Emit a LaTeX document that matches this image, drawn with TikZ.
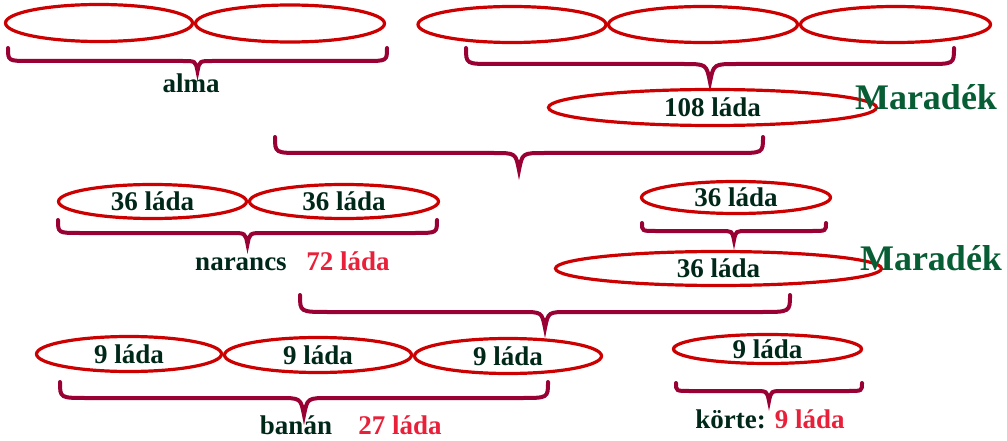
\documentclass[tikz,border=0pt]{standalone}
\usepackage{fontspec}
\setmainfont{Liberation Serif}
\usetikzlibrary{shapes.geometric}
\definecolor{korpiros}{RGB}{204,0,0}
\definecolor{kapocsszin}{RGB}{153,0,51}
\definecolor{sotet}{RGB}{0,40,25}
\definecolor{piroslada}{RGB}{232,32,58}
\definecolor{zold}{RGB}{8,94,52}
\tikzset{
  kor/.style={draw=korpiros, line width=3.2pt, ellipse, inner sep=0pt, text=sotet,
    font=\fontsize{27}{30}\selectfont\bfseries},
  kapocsvonal/.style={draw=kapocsszin, line width=4pt, line cap=round},
  felirat/.style={text=sotet, font=\fontsize{27}{30}\selectfont\bfseries, inner sep=0pt},
  piros/.style={text=piroslada, font=\fontsize{27}{30}\selectfont\bfseries, inner sep=0pt},
  maradek/.style={text=zold, font=\fontsize{36}{40}\selectfont\bfseries, inner sep=0pt}
}
% #1,#2: ends, #3: top, #4: line, #5: tip
\newcommand{\kapocs}[5]{%
  \draw[kapocsvonal] (#1,#3) .. controls (#1,#4) .. ({#1+1.7*(#4-#3)},#4)
    -- ({(#1+#2)/2-1.5*(#5-#4)},#4) .. controls ({(#1+#2)/2-0.2*(#5-#4)},#4) .. ({(#1+#2)/2},#5)
    .. controls ({(#1+#2)/2+0.2*(#5-#4)},#4) .. ({(#1+#2)/2+1.5*(#5-#4)},#4)
    -- ({#2-1.7*(#4-#3)},#4) .. controls (#2,#4) .. (#2,#3);}
\begin{document}
\begin{tikzpicture}[x=1pt, y=-1pt]
\useasboundingbox (0,0) rectangle (1007,441);
\node[kor, minimum width=187, minimum height=37] (a1) at (99,23) {};
\node[kor, minimum width=189, minimum height=37] (a2) at (290,23.5) {};
\kapocs{8}{387}{48}{61}{71}
\node[felirat, anchor=base] (alma) at (191,93) {alma};
\node[kor, minimum width=188, minimum height=36] (o1) at (512,24.5) {};
\node[kor, minimum width=189, minimum height=36] (o2) at (703,24.5) {};
\node[kor, minimum width=190, minimum height=36] (o3) at (895.5,24.5) {};
\kapocs{466}{954}{48}{64}{82}
\node[kor, minimum width=328, minimum height=36] (m108) at (712.5,107.5) {108 láda};
\node[maradek, anchor=base] (mar1) at (926,110) {Maradék};
\kapocs{275}{763}{137}{153}{170}
\node[kor, minimum width=188, minimum height=34] (n1) at (152.5,201.5) {36 láda};
\node[kor, minimum width=189, minimum height=34] (n2) at (344,201.5) {36 láda};
\kapocs{58}{437}{220}{233}{244}
\node[felirat, anchor=base] (narancs) at (241,270) {narancs};
\node[piros, anchor=base] (n72) at (348,270) {72 láda};
\node[kor, minimum width=189, minimum height=32] (r36) at (736,197.5) {36 láda};
\kapocs{642}{826}{223}{231}{240}
\node[kor, minimum width=326, minimum height=34] (m36) at (718.5,268.5) {36 láda};
\node[maradek, anchor=base] (mar2) at (931,270) {Maradék};
\kapocs{300}{790}{295}{312}{328}
\node[kor, minimum width=185, minimum height=35] (b1) at (129,354) {9 láda};
\node[kor, minimum width=187, minimum height=35] (b2) at (318,355) {9 láda};
\node[kor, minimum width=187, minimum height=35] (b3) at (508,356) {9 láda};
\kapocs{60}{548}{382}{398}{415}
\node[felirat, anchor=base] (banan) at (296,434) {banán};
\node[piros, anchor=base] (b27) at (400,434) {27 láda};
\node[kor, minimum width=188, minimum height=29] (k9) at (767.5,349) {9 láda};
\kapocs{676}{862}{383}{391}{401}
\node[felirat, anchor=base] (korte) at (770,428) {körte: \textcolor{piroslada}{9 láda}};
\end{tikzpicture}
\end{document}
